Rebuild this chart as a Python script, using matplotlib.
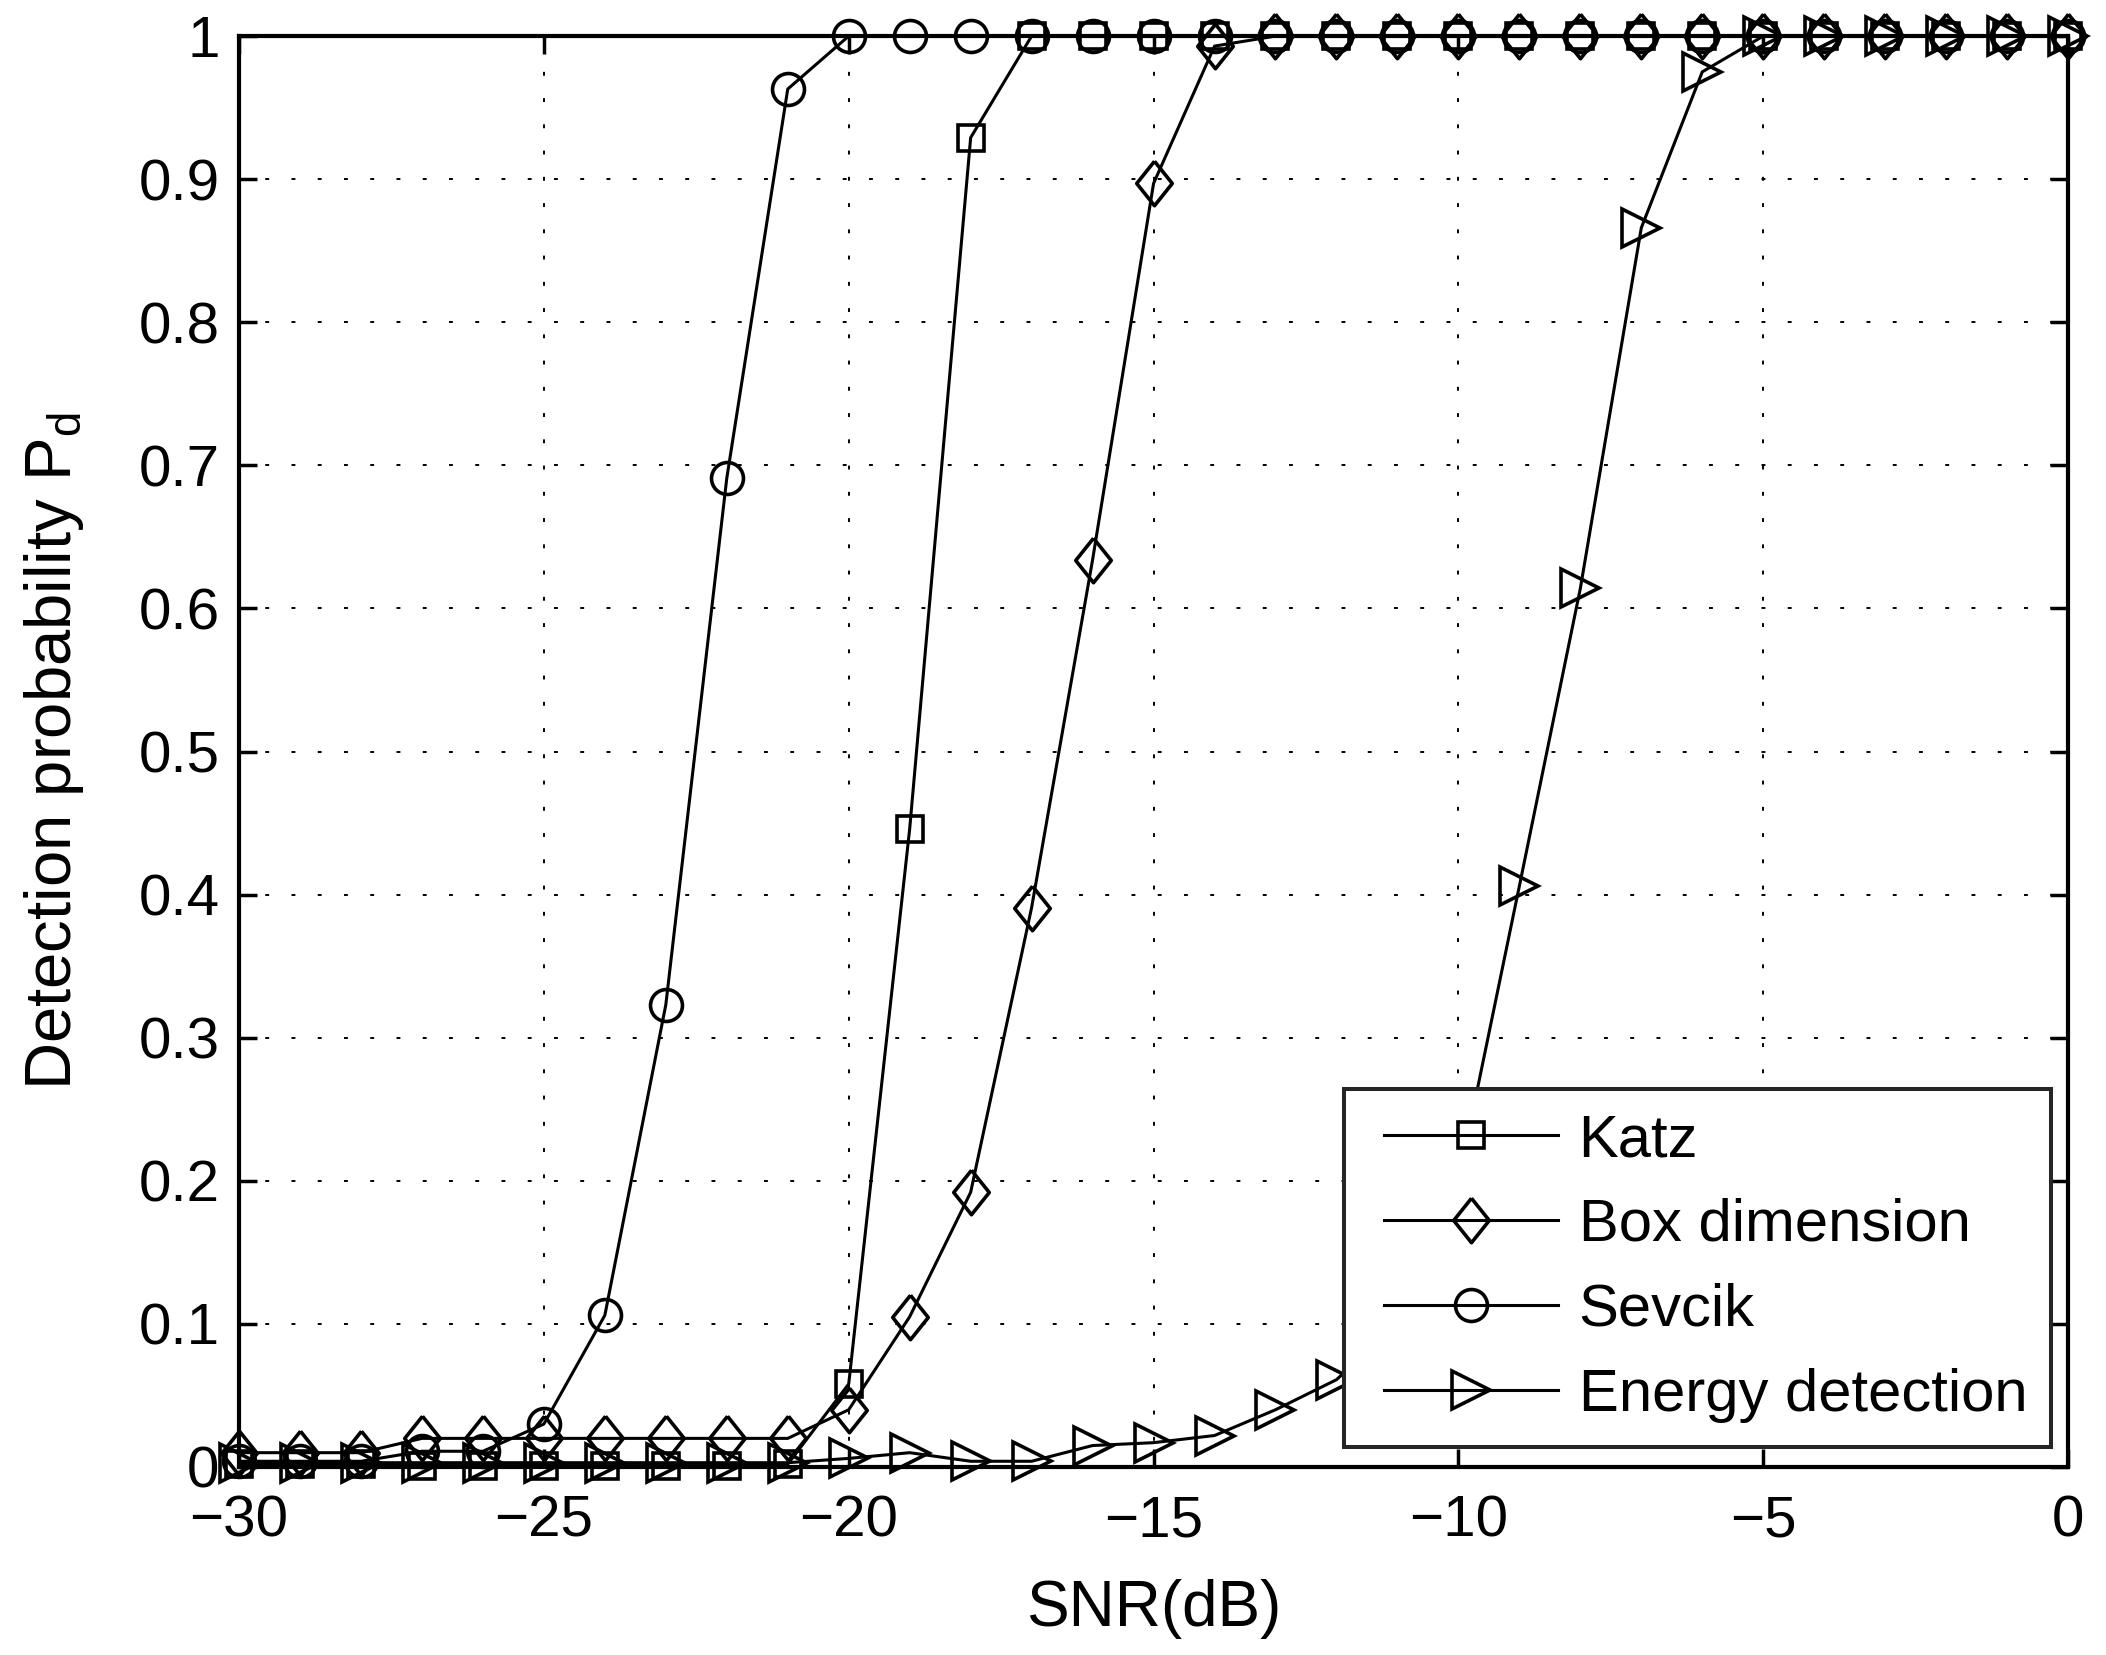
import matplotlib
matplotlib.use("Agg")
import matplotlib.pyplot as plt
from matplotlib.legend_handler import HandlerLine2D
import numpy as np

# ---- data ----
snr_db = list(range(-30, 1))
katz = [0.002, 0.002, 0.002, 0.001, 0.001, 0.001, 0.001, 0.001, 0.001, 0.002,
        0.058, 0.446, 0.929, 1, 1, 1, 1, 1, 1, 1,
        1, 1, 1, 1, 1, 1, 1, 1, 1, 1, 1]
box_dim = [0.01, 0.01, 0.01, 0.02, 0.02, 0.02, 0.02, 0.02, 0.02, 0.02,
           0.04, 0.105, 0.192, 0.391, 0.634, 0.897, 0.993, 1, 1, 1,
           1, 1, 1, 1, 1, 1, 1, 1, 1, 1, 1]
sevcik = [0.004, 0.004, 0.004, 0.011, 0.011, 0.03, 0.106, 0.323, 0.691, 0.963,
          1, 1, 1, 1, 1, 1, 1, 1, 1, 1,
          1, 1, 1, 1, 1, 1, 1, 1, 1, 1, 1]
energy = [0.003, 0.003, 0.003, 0.003, 0.003, 0.003, 0.003, 0.003, 0.003, 0.003,
          0.006, 0.01, 0.004, 0.004, 0.015, 0.017, 0.022, 0.04, 0.061, 0.10,
          0.20, 0.406, 0.614, 0.866, 0.975, 1, 1, 1, 1, 1, 1]
labels = ["Katz", "Box dimension", "Sevcik", "Energy detection"]
xticks = [-30, -25, -20, -15, -10, -5, 0]
yticks = [0, 0.1, 0.2, 0.3, 0.4, 0.5, 0.6, 0.7, 0.8, 0.9, 1]
ytick_labels = ["0", "0.1", "0.2", "0.3", "0.4", "0.5", "0.6", "0.7", "0.8", "0.9", "1"]

plt.rcParams['font.family'] = ['Liberation Sans', 'DejaVu Sans']
plt.rcParams['mathtext.fontset'] = 'custom'
plt.rcParams['mathtext.rm'] = 'Liberation Sans'
plt.rcParams['mathtext.default'] = 'rm'


class PaddedHandler(HandlerLine2D):
    """Line handle with extra blank space on its left."""
    def __init__(self, left_pad=10, **kw):
        super().__init__(**kw)
        self.left_pad = left_pad

    def create_artists(self, legend, orig_handle, xdescent, ydescent, width,
                       height, fontsize, trans):
        p = self.left_pad
        return super().create_artists(legend, orig_handle, xdescent - p,
                                      ydescent, width - p, height, fontsize,
                                      trans)


fig = plt.figure(figsize=(21.06, 16.55), dpi=100)
ax = fig.add_axes([0.1135, 0.1136, 0.982 - 0.1135, 0.9782 - 0.1136])

thin_diamond = [(0, 1), (0.8, 0), (0, -1), (-0.8, 0), (0, 1)]
styles = [
    dict(marker='s', markersize=19),
    dict(marker=thin_diamond, markersize=32),
    dict(marker='o', markersize=23),
    dict(marker='>', markersize=28),
]
series = [katz, box_dim, sevcik, energy]
handles = []
for y, lab, st in zip(series, labels, styles):
    h, = ax.plot(snr_db, y, color='black', linewidth=2.2, markerfacecolor='none',
                 markeredgecolor='black', markeredgewidth=2.6, label=lab,
                 clip_on=False, **st)
    handles.append(h)

ax.set_xlim(-30, 0)
ax.set_ylim(0, 1)
ax.set_xticks(xticks)
ax.set_xticklabels([("\u2212%d" % -v) if v < 0 else str(v) for v in xticks])
ax.set_yticks(yticks)
ax.set_yticklabels(ytick_labels)

ax.grid(True, color='black', linewidth=1.4, linestyle=(0, (2, 11.5)))
ax.set_axisbelow(True)
for sp in ax.spines.values():
    sp.set_linewidth(3.0)
ax.tick_params(direction='in', length=13, width=2.5, top=True, right=True,
               labelsize=42)
ax.tick_params(axis='y', pad=14)
ax.tick_params(axis='x', pad=20)

ax.set_xlabel("SNR(dB)", fontsize=46, labelpad=22)
ax.set_ylabel("Detection probability P$_{d}$", fontsize=47, labelpad=38)

leg = ax.legend(handles=handles, loc='lower right',
                bbox_to_anchor=(0.9907, 0.0143), borderaxespad=0,
                fontsize=43, handlelength=3.17, handletextpad=0.35,
                labelspacing=0.5, borderpad=0.4, fancybox=False,
                framealpha=1, edgecolor='0.15',
                handler_map={h: PaddedHandler(left_pad=11.3) for h in handles})
leg.get_frame().set_linewidth(2.9)

fig.savefig("out.png", dpi=100)
